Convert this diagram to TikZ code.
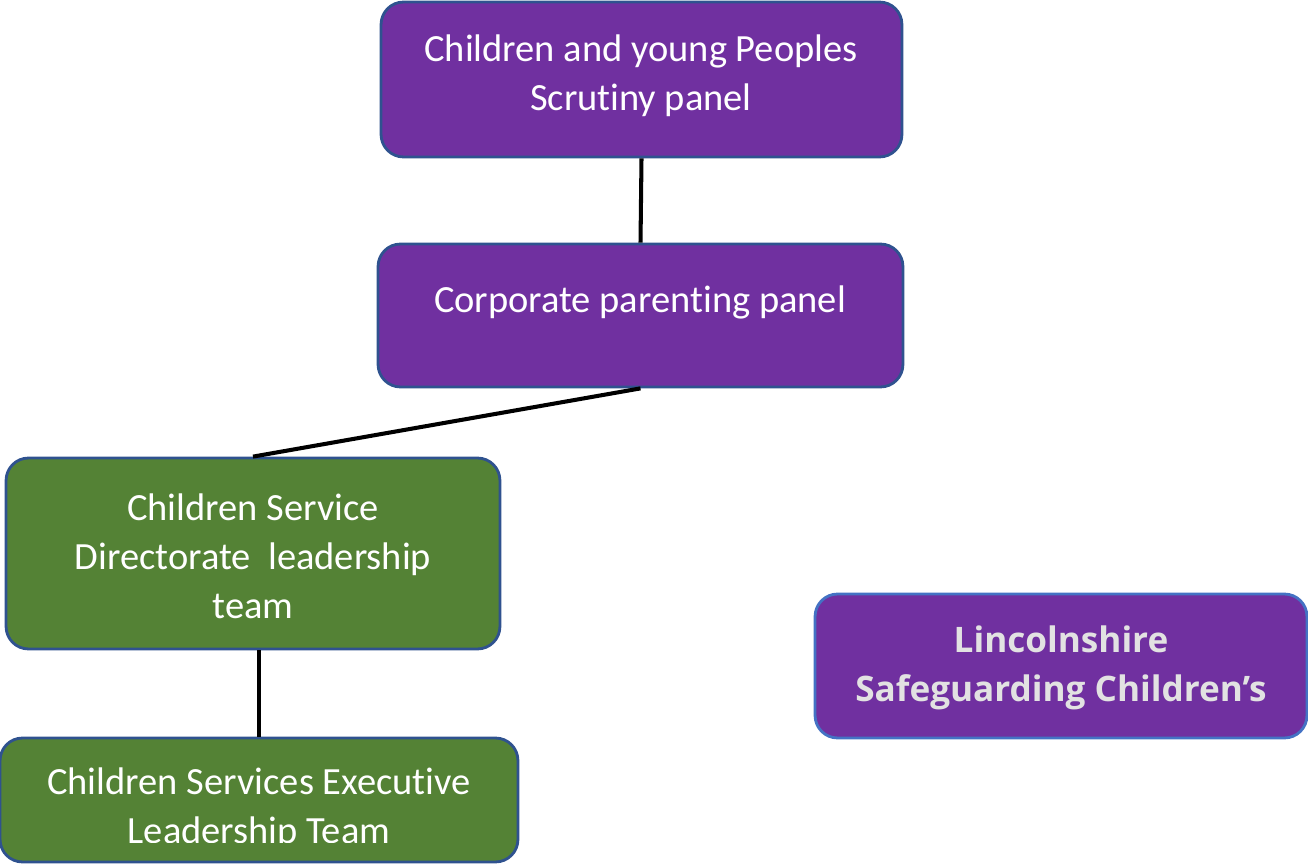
\documentclass[tikz,border=0pt]{standalone}
\usepackage{fontspec}
\setmainfont{Carlito}[Ligatures=NoCommon]
\newfontfamily\lscbfont{Open Sans}
\usetikzlibrary{positioning}

\definecolor{panelpurple}{RGB}{112,48,160}
\definecolor{teamgreen}{RGB}{84,130,53}
\definecolor{boxedge}{RGB}{47,82,143}
\definecolor{lightedge}{RGB}{68,114,196}
\definecolor{embossgray}{RGB}{226,226,226}

\tikzset{
  panel/.style={draw=boxedge, line width=1.6pt, rounded corners=0.45cm, fill=panelpurple, inner sep=0pt},
  team/.style={panel, fill=teamgreen},
  boxtext/.style={text=white, font=\fontsize{21.9}{27.8}\selectfont, align=center, inner sep=0pt},
  link/.style={line width=2.3pt},
}

\begin{document}
\begin{tikzpicture}[x=0.02cm, y=-0.02cm]
    \useasboundingbox (0,0) rectangle (1308,864);
    % boxes
    \node[panel, minimum width=10.42cm, minimum height=3.1cm] (scrutiny) at (641.5,79.5) {};
    \node[panel, minimum width=10.5cm, minimum height=2.86cm] (parenting) at (640.5,315.5) {};
    \node[team, minimum width=9.88cm, minimum height=3.82cm] (directorate) at (253,553.5) {};
    \node[team, minimum width=10.36cm, minimum height=2.48cm] (executive) at (259,800) {};
    \node[panel, draw=lightedge, minimum width=9.84cm, minimum height=2.88cm] (lscb) at (1061,666) {};
    % texts
    \node[boxtext] (scrutinytext) at (641,76) {Children and young Peoples\\Scrutiny panel};
    \node[boxtext] (parentingtext) at (640,302) {Corporate parenting panel};
    \node[boxtext] (directoratetext) at (253,556) {Children Service\\Directorate\ \ leadership\\team};
    \begin{scope}
      \clip (0,738) rectangle (518,842);
      \node[boxtext] (executivetext) at (259,809) {Children Services Executive\\Leadership Team};
    \end{scope}
    \node[boxtext, text=embossgray, font=\lscbfont\bfseries\fontsize{20}{27.8}\selectfont] (lscbtext) at (1061,668) {Lincolnshire\\Safeguarding Children’s};
    % links
    \draw[link] (scrutiny.south) -- (parenting.north);
    \draw[link] (parenting.south) -- (directorate.north);
    \draw[link] (directorate.south -| executive.north) -- (executive.north);
\end{tikzpicture}
\end{document}
